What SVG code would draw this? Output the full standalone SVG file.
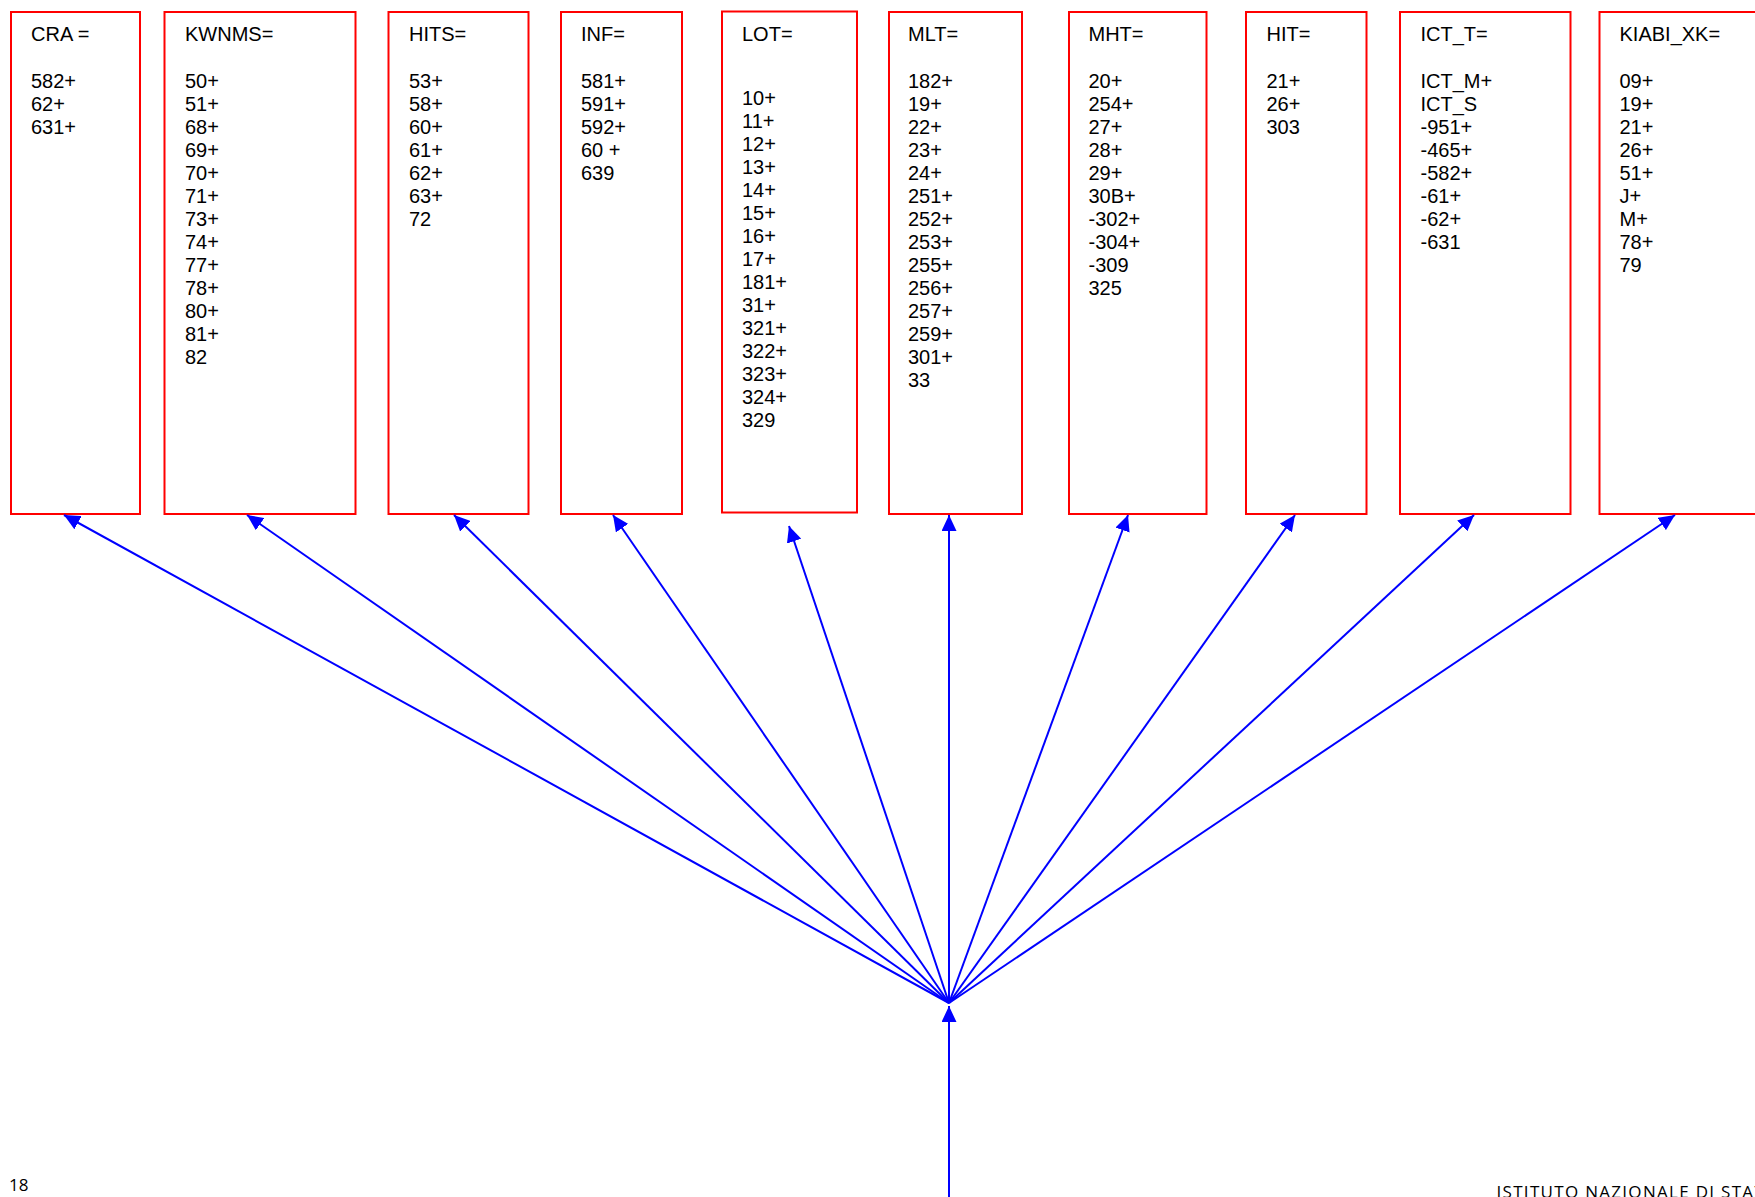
<svg xmlns="http://www.w3.org/2000/svg" width="1755" height="1197" viewBox="0 0 1755 1197">
  <style>
    .box { fill: #ffffff; stroke: #ff0000; stroke-width: 2; }
    .lbl { font-family: "Liberation Sans", Arial, sans-serif; font-size: 20px; fill: #000000; }
    .link { stroke: #0000ff; stroke-width: 2; fill: none; marker-end: url(#head); }
    .page { font-family: "Open Sans", "Noto Sans", sans-serif; font-size: 17px; fill: #000000; }
    .inst { font-family: "Open Sans", "Liberation Sans", sans-serif; font-size: 17px; letter-spacing: 1.3px; fill: #000000; }
  </style>
  <defs>
    <marker id="head" markerUnits="userSpaceOnUse" markerWidth="16" markerHeight="15" refX="16" refY="7.5" orient="auto">
      <path d="M0,0 L16,7.5 L0,15 z" fill="#0000ff"/>
    </marker>
  </defs>
  <rect width="1755" height="1197" fill="#ffffff"/>

  <!-- code groups -->
  <g id="node-cra">
    <rect class="box" x="11" y="12" width="129" height="502"/>
    <text class="lbl" x="31" y="41">CRA =</text>
    <text class="lbl"><tspan x="31" y="87.5">582+</tspan><tspan x="31" dy="23">62+</tspan><tspan x="31" dy="23">631+</tspan></text>
  </g>

  <g id="node-kwnms">
    <rect class="box" x="164.5" y="12" width="191" height="502"/>
    <text class="lbl" x="185" y="41">KWNMS=</text>
    <text class="lbl"><tspan x="185" y="87.5">50+</tspan><tspan x="185" dy="23">51+</tspan><tspan x="185" dy="23">68+</tspan><tspan x="185" dy="23">69+</tspan><tspan x="185" dy="23">70+</tspan><tspan x="185" dy="23">71+</tspan><tspan x="185" dy="23">73+</tspan><tspan x="185" dy="23">74+</tspan><tspan x="185" dy="23">77+</tspan><tspan x="185" dy="23">78+</tspan><tspan x="185" dy="23">80+</tspan><tspan x="185" dy="23">81+</tspan><tspan x="185" dy="23">82</tspan></text>
  </g>

  <g id="node-hits">
    <rect class="box" x="388.5" y="12" width="140" height="502"/>
    <text class="lbl" x="409" y="41">HITS=</text>
    <text class="lbl"><tspan x="409" y="87.5">53+</tspan><tspan x="409" dy="23">58+</tspan><tspan x="409" dy="23">60+</tspan><tspan x="409" dy="23">61+</tspan><tspan x="409" dy="23">62+</tspan><tspan x="409" dy="23">63+</tspan><tspan x="409" dy="23">72</tspan></text>
  </g>

  <g id="node-inf">
    <rect class="box" x="561" y="12" width="121" height="502"/>
    <text class="lbl" x="581" y="41">INF=</text>
    <text class="lbl"><tspan x="581" y="87.5">581+</tspan><tspan x="581" dy="23">591+</tspan><tspan x="581" dy="23">592+</tspan><tspan x="581" dy="23">60 +</tspan><tspan x="581" dy="23">639</tspan></text>
  </g>

  <g id="node-lot">
    <rect class="box" x="722" y="11.5" width="135" height="501"/>
    <text class="lbl" x="742" y="41">LOT=</text>
    <text class="lbl"><tspan x="742" y="104.5">10+</tspan><tspan x="742" dy="23">11+</tspan><tspan x="742" dy="23">12+</tspan><tspan x="742" dy="23">13+</tspan><tspan x="742" dy="23">14+</tspan><tspan x="742" dy="23">15+</tspan><tspan x="742" dy="23">16+</tspan><tspan x="742" dy="23">17+</tspan><tspan x="742" dy="23">181+</tspan><tspan x="742" dy="23">31+</tspan><tspan x="742" dy="23">321+</tspan><tspan x="742" dy="23">322+</tspan><tspan x="742" dy="23">323+</tspan><tspan x="742" dy="23">324+</tspan><tspan x="742" dy="23">329</tspan></text>
  </g>

  <g id="node-mlt">
    <rect class="box" x="889" y="12" width="133" height="502"/>
    <text class="lbl" x="908" y="41">MLT=</text>
    <text class="lbl"><tspan x="908" y="87.5">182+</tspan><tspan x="908" dy="23">19+</tspan><tspan x="908" dy="23">22+</tspan><tspan x="908" dy="23">23+</tspan><tspan x="908" dy="23">24+</tspan><tspan x="908" dy="23">251+</tspan><tspan x="908" dy="23">252+</tspan><tspan x="908" dy="23">253+</tspan><tspan x="908" dy="23">255+</tspan><tspan x="908" dy="23">256+</tspan><tspan x="908" dy="23">257+</tspan><tspan x="908" dy="23">259+</tspan><tspan x="908" dy="23">301+</tspan><tspan x="908" dy="23">33</tspan></text>
  </g>

  <g id="node-mht">
    <rect class="box" x="1069" y="12" width="137.5" height="502"/>
    <text class="lbl" x="1088.5" y="41">MHT=</text>
    <text class="lbl"><tspan x="1088.5" y="87.5">20+</tspan><tspan x="1088.5" dy="23">254+</tspan><tspan x="1088.5" dy="23">27+</tspan><tspan x="1088.5" dy="23">28+</tspan><tspan x="1088.5" dy="23">29+</tspan><tspan x="1088.5" dy="23">30B+</tspan><tspan x="1088.5" dy="23">-302+</tspan><tspan x="1088.5" dy="23">-304+</tspan><tspan x="1088.5" dy="23">-309</tspan><tspan x="1088.5" dy="23">325</tspan></text>
  </g>

  <g id="node-hit">
    <rect class="box" x="1246" y="12" width="120.5" height="502"/>
    <text class="lbl" x="1266.5" y="41">HIT=</text>
    <text class="lbl"><tspan x="1266.5" y="87.5">21+</tspan><tspan x="1266.5" dy="23">26+</tspan><tspan x="1266.5" dy="23">303</tspan></text>
  </g>

  <g id="node-ict-t">
    <rect class="box" x="1400" y="12" width="170.5" height="502"/>
    <text class="lbl" x="1420.5" y="41">ICT_T=</text>
    <text class="lbl"><tspan x="1420.5" y="87.5">ICT_M+</tspan><tspan x="1420.5" dy="23">ICT_S</tspan><tspan x="1420.5" dy="23">-951+</tspan><tspan x="1420.5" dy="23">-465+</tspan><tspan x="1420.5" dy="23">-582+</tspan><tspan x="1420.5" dy="23">-61+</tspan><tspan x="1420.5" dy="23">-62+</tspan><tspan x="1420.5" dy="23">-631</tspan></text>
  </g>

  <g id="node-kiabi-xk">
    <rect class="box" x="1599.5" y="12" width="170" height="502"/>
    <text class="lbl" x="1619.5" y="41">KIABI_XK=</text>
    <text class="lbl"><tspan x="1619.5" y="87.5">09+</tspan><tspan x="1619.5" dy="23">19+</tspan><tspan x="1619.5" dy="23">21+</tspan><tspan x="1619.5" dy="23">26+</tspan><tspan x="1619.5" dy="23">51+</tspan><tspan x="1619.5" dy="23">J+</tspan><tspan x="1619.5" dy="23">M+</tspan><tspan x="1619.5" dy="23">78+</tspan><tspan x="1619.5" dy="23">79</tspan></text>
  </g>

  <!-- fan of arrows from the common point to each group, plus the incoming stem -->
  <g id="connectors">
    <line class="link" x1="949" y1="1197" x2="949" y2="1006"/>
    <line class="link" x1="949" y1="1003" x2="64" y2="515"/>
    <line class="link" x1="949" y1="1003" x2="247" y2="515"/>
    <line class="link" x1="949" y1="1003" x2="454" y2="515"/>
    <line class="link" x1="949" y1="1003" x2="613" y2="515"/>
    <line class="link" x1="949" y1="1003" x2="789" y2="526"/>
    <line class="link" x1="949" y1="1003" x2="949" y2="515"/>
    <line class="link" x1="949" y1="1003" x2="1128" y2="515"/>
    <line class="link" x1="949" y1="1003" x2="1295" y2="515"/>
    <line class="link" x1="949" y1="1003" x2="1474" y2="515"/>
    <line class="link" x1="949" y1="1003" x2="1675" y2="515"/>
  </g>

  <!-- page footer -->
  <text class="page" x="9" y="1190.5">18</text>
  <text class="inst" x="1496.5" y="1198">ISTITUTO NAZIONALE DI STATISTICA</text>
</svg>
